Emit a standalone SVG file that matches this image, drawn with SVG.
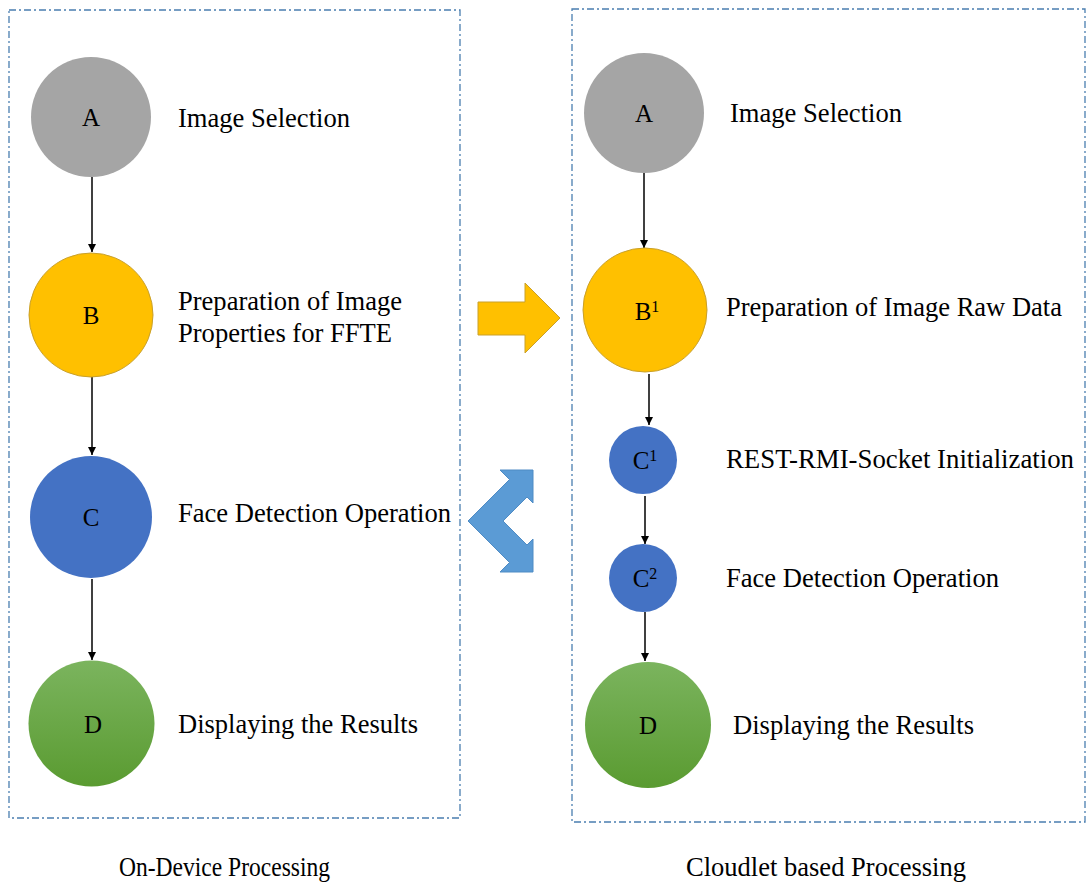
<svg xmlns="http://www.w3.org/2000/svg" width="1089" height="887" viewBox="0 0 1089 887">
<style>
.box{fill:none;stroke:#4a7eb0;stroke-width:1.3;stroke-dasharray:7 3 2 3}
.t{font-family:"Liberation Serif","Times New Roman",serif;font-size:28px;fill:#000}
.cap{font-size:27px}
.lbl{font-family:"Liberation Serif","Times New Roman",serif;font-size:25px;fill:#000;text-anchor:middle}
.sup{font-size:16px}
.edge{stroke:#000;stroke-width:1.5;fill:none;marker-end:url(#ah)}
.gray{fill:#a5a5a5}
.yel{fill:#ffc000;stroke:#c9a02a;stroke-width:1}
.blu{fill:#4472c4}
.grn{fill:url(#gg)}
</style>
<defs>
<marker id="ah" viewBox="0 0 10 10" refX="10" refY="5" markerWidth="8" markerHeight="10" orient="auto" markerUnits="userSpaceOnUse">
<path d="M0,0 L10,5 L0,10 Z" fill="#000"/>
</marker>
<linearGradient id="gg" x1="0" y1="0" x2="0" y2="1">
<stop offset="0" stop-color="#7bb45e"/>
<stop offset="1" stop-color="#5a9b31"/>
</linearGradient>
</defs>
<rect width="1089" height="887" fill="#fff"/>

<g id="box-left"><rect class="box" x="9" y="10" width="451" height="808"/></g>
<g id="box-right"><rect class="box" x="572" y="9" width="513" height="813"/></g>

<g id="connectors">
<line class="edge" x1="92" y1="177" x2="92" y2="252"/>
<line class="edge" x1="92" y1="377" x2="92" y2="455"/>
<line class="edge" x1="92" y1="579" x2="92" y2="660"/>
<line class="edge" x1="644" y1="173" x2="644" y2="248"/>
<line class="edge" x1="649" y1="374" x2="649" y2="425"/>
<line class="edge" x1="645" y1="496" x2="645" y2="544"/>
<line class="edge" x1="645" y1="612" x2="645" y2="661"/>
</g>

<g id="node-A-left">
<circle class="gray" cx="91" cy="117" r="60"/>
<text class="lbl" x="91" y="126">A</text>
<text class="t" x="178" y="127" textLength="172" lengthAdjust="spacingAndGlyphs">Image Selection</text>
</g>
<g id="node-B-left">
<circle class="yel" cx="91" cy="315" r="62"/>
<text class="lbl" x="91" y="324">B</text>
<text class="t" x="178" y="310" textLength="224" lengthAdjust="spacingAndGlyphs">Preparation of Image</text>
<text class="t" x="178" y="342" textLength="214" lengthAdjust="spacingAndGlyphs">Properties for FFTE</text>
</g>
<g id="node-C-left">
<circle class="blu" cx="91" cy="517" r="61"/>
<text class="lbl" x="91" y="526">C</text>
<text class="t" x="178" y="522" textLength="273" lengthAdjust="spacingAndGlyphs">Face Detection Operation</text>
</g>
<g id="node-D-left">
<circle class="grn" cx="91.5" cy="723.5" r="63"/>
<text class="lbl" x="93" y="733">D</text>
<text class="t" x="178" y="733" textLength="240" lengthAdjust="spacingAndGlyphs">Displaying the Results</text>
</g>

<g id="node-A-right">
<circle class="gray" cx="644" cy="113" r="60"/>
<text class="lbl" x="644" y="122">A</text>
<text class="t" x="730" y="122" textLength="172" lengthAdjust="spacingAndGlyphs">Image Selection</text>
</g>
<g id="node-B1-right">
<circle class="yel" cx="645" cy="310" r="62"/>
<text class="lbl" x="647" y="320">B<tspan class="sup" dy="-8">1</tspan></text>
<text class="t" x="726" y="316" textLength="336" lengthAdjust="spacingAndGlyphs">Preparation of Image Raw Data</text>
</g>
<g id="node-C1-right">
<circle class="blu" cx="643" cy="460" r="34"/>
<text class="lbl" x="645" y="469">C<tspan class="sup" dy="-8">1</tspan></text>
<text class="t" x="726" y="468" textLength="348" lengthAdjust="spacingAndGlyphs">REST-RMI-Socket Initialization</text>
</g>
<g id="node-C2-right">
<circle class="blu" cx="643" cy="578" r="34"/>
<text class="lbl" x="645" y="587">C<tspan class="sup" dy="-8">2</tspan></text>
<text class="t" x="726" y="587" textLength="273" lengthAdjust="spacingAndGlyphs">Face Detection Operation</text>
</g>
<g id="node-D-right">
<circle class="grn" cx="648" cy="725" r="63"/>
<text class="lbl" x="648" y="734">D</text>
<text class="t" x="733" y="734" textLength="241" lengthAdjust="spacingAndGlyphs">Displaying the Results</text>
</g>

<g id="arrow-yellow">
<polygon points="478,302 525,302 525,283 560,318 525,353 525,335 478,335" fill="#ffc000" stroke="#c9a02a" stroke-width="1"/>
</g>
<g id="arrow-blue">
<polygon points="468,521 509.5,479.5 500,470 533,470 533,503 527,497 503,521 527,545 533,539 533,572 500,572 509.5,562.5" fill="#5b9bd5" stroke="#4f8bc4" stroke-width="1"/>
</g>

<g id="captions">
<text class="t cap" x="119" y="876" textLength="211" lengthAdjust="spacingAndGlyphs">On-Device Processing</text>
<text class="t cap" x="686" y="876" textLength="280" lengthAdjust="spacingAndGlyphs">Cloudlet based Processing</text>
</g>
</svg>
